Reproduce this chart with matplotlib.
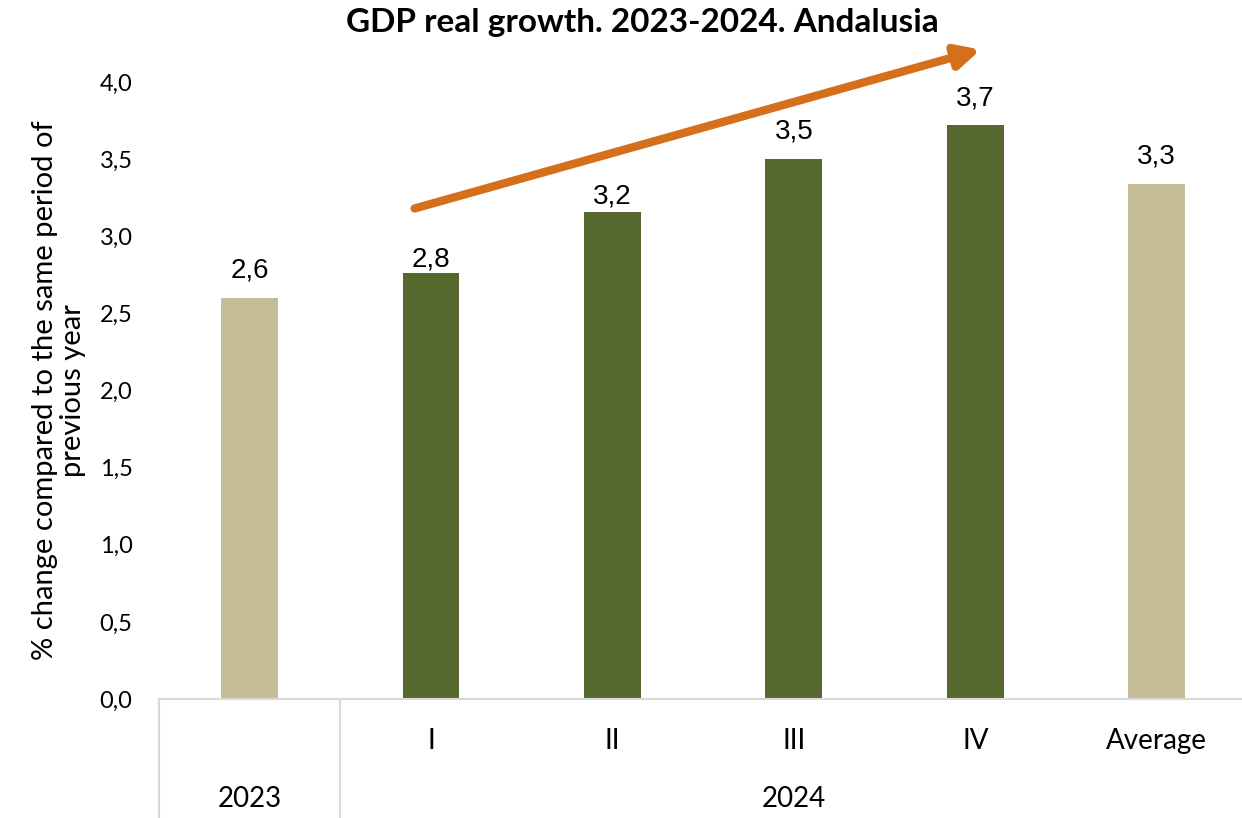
import matplotlib
matplotlib.use("Agg")
import matplotlib.pyplot as plt
from matplotlib import transforms

categories = ["2023", "I", "II", "III", "IV", "Average"]
values = [2.60, 2.76, 3.16, 3.50, 3.72, 3.34]
value_labels = ["2,6", "2,8", "3,2", "3,5", "3,7", "3,3"]
tick_labels = ["", "I", "II", "III", "IV", "Average"]
groups = ["2023", "2024"]
yticks = [0.0, 0.5, 1.0, 1.5, 2.0, 2.5, 3.0, 3.5, 4.0]
ytick_labels = ["0,0", "0,5", "1,0", "1,5", "2,0", "2,5", "3,0", "3,5", "4,0"]

# label gap above each bar (points) - styling only
label_gaps = [15, 5, 5.5, 15, 14.5, 14.5]

GREEN = "#55692E"
TAN = "#C4BD97"
ORANGE = "#D46F1C"
GRAY = "#D9D9D9"
colors = [TAN, GREEN, GREEN, GREEN, GREEN, TAN]

SANS = ["Lato", "DejaVu Sans"]
ARIAL = ["Liberation Sans", "DejaVu Sans"]

fig = plt.figure(figsize=(12.42, 8.18), dpi=100)
ax = fig.add_axes([0.1279, 0.1455, 0.8721, 0.7543])

x = list(range(len(categories)))
bars = ax.bar(x, values, width=0.314, color=colors, zorder=2)
for xi, v, lab, gap in zip(x, values, value_labels, label_gaps):
    ax.annotate(lab, (xi, v), xytext=(0, gap), textcoords="offset points",
                ha="center", va="baseline", fontsize=20, family=ARIAL)

ax.set_xlim(-0.5, 5.47)
ax.set_ylim(0, 4.0)
ax.set_yticks(yticks)
ax.set_yticklabels(ytick_labels, family=SANS, fontsize=17)
ax.tick_params(axis="y", length=0, pad=19)
ax.set_xticks(x)
ax.set_xticklabels(tick_labels, family=SANS, fontsize=20)
ax.tick_params(axis="x", length=0, pad=21)

for s in ["top", "right", "left"]:
    ax.spines[s].set_visible(False)
ax.spines["bottom"].set_color(GRAY)
ax.spines["bottom"].set_linewidth(1.5)

trans = transforms.blended_transform_factory(ax.transData, ax.transAxes)
bottom_frac = -0.1455 / 0.7543
for bx in [-0.5, 0.5]:
    ax.plot([bx, bx], [0, bottom_frac], transform=trans, color=GRAY,
            lw=1.5, clip_on=False, zorder=1)
ax.text(0, -0.162, groups[0], transform=trans, ha="center", va="center",
        family=SANS, fontsize=20)
ax.text(3.0, -0.162, groups[1], transform=trans, ha="center", va="center",
        family=SANS, fontsize=20)

ax.set_ylabel("% change compared to the same period of\nprevious year",
              family=SANS, fontsize=21, linespacing=1.1)
ax.yaxis.set_label_coords(-0.067, 0.5)

ax.annotate("", xy=(4.03, 4.21), xytext=(0.91, 3.18),
            xycoords="data", textcoords="data", annotation_clip=False,
            arrowprops=dict(arrowstyle="-|>,head_length=1.4,head_width=0.7",
                            color=ORANGE, lw=6, shrinkA=0, shrinkB=0))

fig.text(0.517, 0.973, "GDP real growth. 2023-2024. Andalusia", ha="center",
         va="center", fontsize=24, fontweight="bold", family=["Lato", "DejaVu Sans"])

fig.savefig("out.png", dpi=100, facecolor="white")
